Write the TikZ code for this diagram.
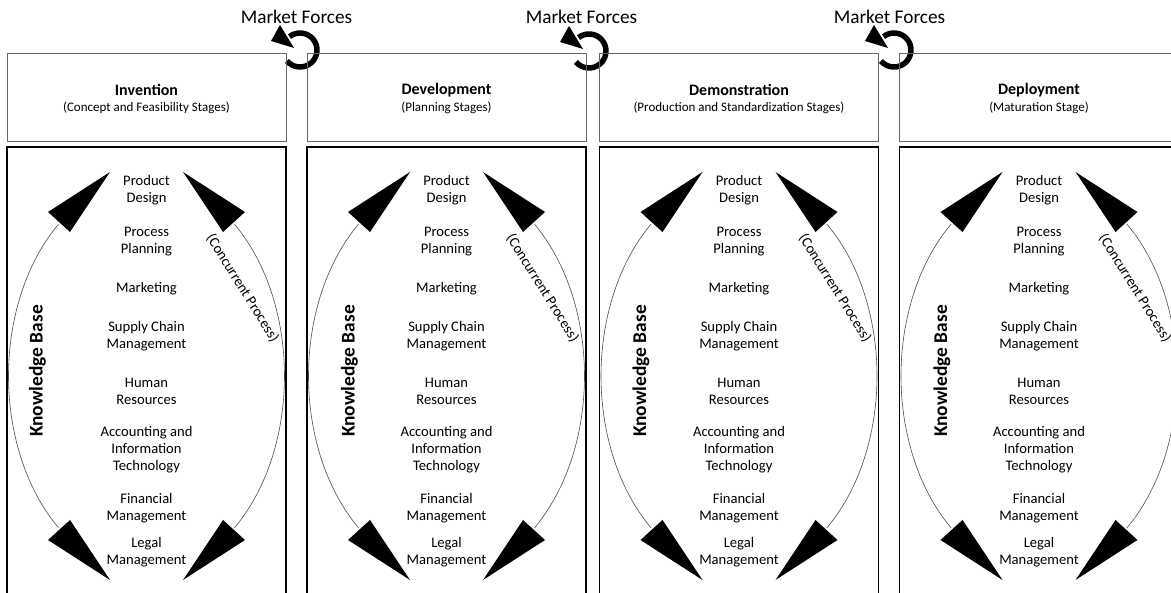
\documentclass[tikz,border=0pt]{standalone}
\usepackage{fontspec}
\setmainfont{Carlito}

\begin{document}
\begin{tikzpicture}[x=1pt, y=-1pt,
    stagebox/.style={draw=black!60, line width=0.8pt},
    basebox/.style={draw=black, line width=1.3pt},
    item/.style={align=center, inner sep=0pt, font=\fontsize{14.6}{17}\selectfont},
    cycleline/.style={draw=black!70, line width=0.6pt}]
\useasboundingbox (0,0) rectangle (1171,593);
\clip (0,0) rectangle (1171,593);
\fill[white] (0,0) rectangle (1171,593);
% market forces
\foreach \tx/\cx/\cy [count=\n] in {296.5/300/50, 581.5/589/51, 889.5/894/50} {
  \node[font=\fontsize{19.3}{22}\selectfont] (market\n) at (\tx,17) {Market Forces};
  \coordinate (turn\n) at (\cx,\cy);
  \draw[line width=5.5pt] (turn\n) ++(140:17) arc[start angle=140, end angle=-128, radius=17];
  \fill ([shift={(-29,-9)}]turn\n) -- ([shift={(-20,-25)}]turn\n)
        -- ([shift={(-6,-2)}]turn\n) -- cycle;
}
% stages
\foreach \cx/\kb/\ttl/\sub [count=\n] in {
    146.5/-109/Invention/{(Concept and Feasibility Stages)},
    446.5/-97/Development/{(Planning Stages)},
    739/-98/Demonstration/{(Production and Standardization Stages)},
    1039/-97/Deployment/{(Maturation Stage)}} {
\scope[shift={(\cx,0)}]
  % heading
  \draw[stagebox] (-139.5,53) rectangle (139.5,141);
  \node[font=\fontsize{16}{19}\bfseries] (title\n) at (0,90) {\ttl};
  \node[font=\fontsize{13}{15}\selectfont] (sub\n) at (0,107.5) {\sub};
  % knowledge base
  \draw[basebox] (-139.5,147) rectangle (139.5,620);
  \draw[cycleline] (0,376) ++(129.6:138 and 197)
    arc[start angle=129.6, end angle=230.4, x radius=138, y radius=197];
  \draw[cycleline] (0,376) ++(-50.4:138 and 197)
    arc[start angle=-50.4, end angle=50.4, x radius=138, y radius=197];
  \foreach \s in {-1,1} {
    \fill (\s*36.5,172) -- (\s*98.5,212) -- (\s*76.5,232) -- cycle;
    \fill (\s*36.5,580) -- (\s*98.5,540) -- (\s*76.5,520) -- cycle;
  }
  \node[rotate=90, font=\fontsize{19.4}{22}\bfseries] (know\n) at (\kb,371) {Knowledge Base};
  \node[item, rotate=-58] (conc\n) at (96,288) {(Concurrent Process)};
  \foreach \txt/\y [count=\m] in {{Product\\Design}/190.5, {Process\\Planning}/241.5,
      Marketing/289, {Supply Chain\\Management}/336.5, {Human\\Resources}/391.5,
      {Accounting and\\Information\\Technology}/450, {Financial\\Management}/508.5,
      {Legal\\Management}/552.5}
    \node[item] (area\n-\m) at (0,\y) {\txt};
\endscope
}
\end{tikzpicture}
\end{document}
